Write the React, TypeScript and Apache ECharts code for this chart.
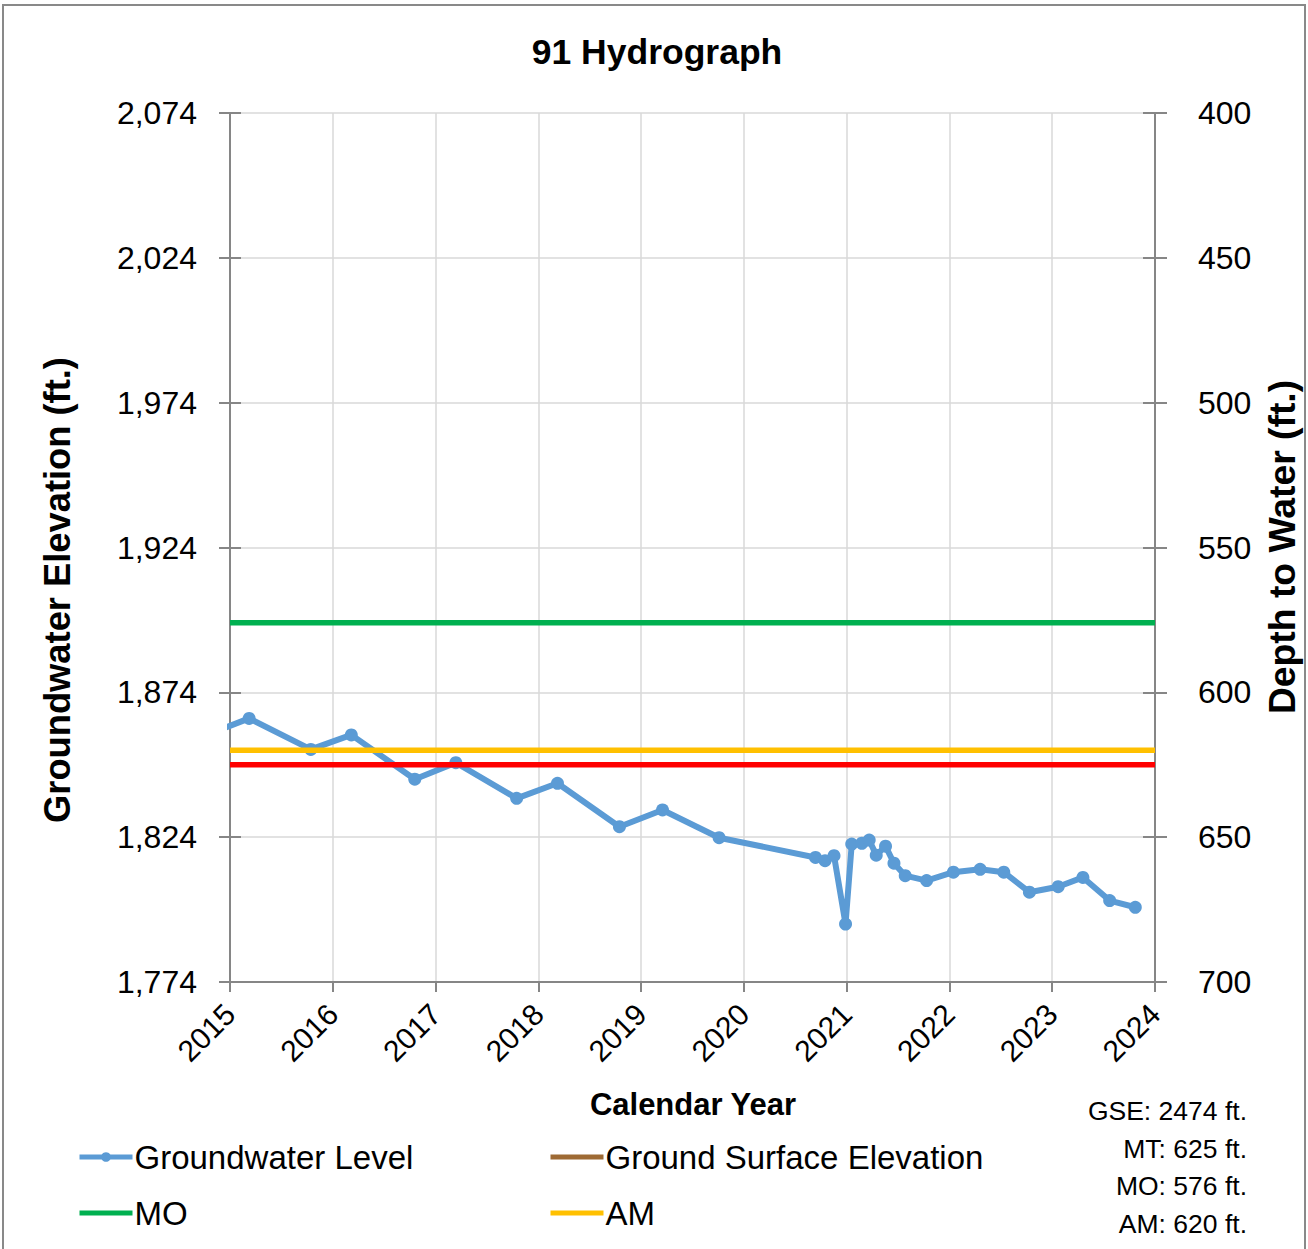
import React, { useEffect, useRef } from "react";
import * as echarts from "echarts";

const GSE = 2474;
const MT_DEPTH = 625;
const MO_DEPTH = 576;
const AM_DEPTH = 620;

const measureDates = [
  "2014-10-20", "2015-03-10", "2015-10-15", "2016-03-07", "2016-10-19", "2017-03-14",
  "2017-10-16", "2018-03-10", "2018-10-16", "2019-03-18", "2019-10-05", "2020-09-12",
  "2020-10-16", "2020-11-17", "2020-12-28", "2021-01-19", "2021-02-24", "2021-03-22",
  "2021-04-16", "2021-05-19", "2021-06-18", "2021-07-28", "2021-10-12", "2022-01-15",
  "2022-04-20", "2022-07-13", "2022-10-12", "2023-01-22", "2023-04-20", "2023-07-24",
  "2023-10-23",
];
const gwElevation = [
  1859.7, 1865.0, 1854.3, 1859.3, 1844.0, 1849.7,
  1837.4, 1842.6, 1827.6, 1833.4, 1823.8, 1817.0,
  1815.9, 1817.6, 1794.0, 1821.6, 1821.9, 1823.0,
  1817.8, 1820.9, 1815.0, 1810.7, 1809.0, 1811.9,
  1812.9, 1811.9, 1805.0, 1806.9, 1810.1, 1802.1,
  1799.8,
];
const yearStart = 2015;
const yearEnd = 2024;
const elevMin = 1774;
const elevMax = 2074;
const depthMin = 400;
const depthMax = 700;
const tickStep = 50;

const infoLines = [
  `GSE: ${GSE} ft.`,
  `MT: ${MT_DEPTH} ft.`,
  `MO: ${MO_DEPTH} ft.`,
  `AM: ${AM_DEPTH} ft.`,
];

const FONT = "'Liberation Sans', Arial, sans-serif";

function toDecimalYear(s: string): number {
  const [y, m, d] = s.split("-").map(Number);
  const t = Date.UTC(y, m - 1, d);
  const a = Date.UTC(y, 0, 1);
  const b = Date.UTC(y + 1, 0, 1);
  return y + (t - a) / (b - a);
}

export default function App() {
  const ref = useRef<HTMLDivElement>(null);
  useEffect(() => {
    document.body.style.margin = "0";
    if (!ref.current) return;
    const chart = echarts.init(ref.current, null, { renderer: "svg" });
    const gw = measureDates.map((d, i) => [toDecimalYear(d), gwElevation[i]]);
    const flat = (v: number) => [[yearStart, v], [yearEnd, v]];
    const axisGray = "#868686";
    const yBase = {
      type: "value",
      min: elevMin,
      max: elevMax,
      interval: tickStep,
    };
    const legendCommon = {
      top: 1139,
      orient: "vertical",
      padding: 0,
      itemWidth: 53,
      itemHeight: 12,
      itemGap: 20,
      lineStyle: { width: 5 },
      textStyle: { fontSize: 33, fontFamily: FONT, color: "#000", lineHeight: 36, padding: [0, 0, 0, -3] },
    };
    chart.setOption({
      animation: false,
      backgroundColor: "#fff",
      grid: { left: 230, right: 153, top: 113, bottom: 267, containLabel: false },
      xAxis: {
        type: "value",
        min: yearStart,
        max: yearEnd,
        interval: 1,
        axisLine: { show: true, lineStyle: { color: axisGray, width: 2 } },
        axisTick: { show: true, length: 10, lineStyle: { color: axisGray, width: 2 } },
        splitLine: { show: true, lineStyle: { color: "#D9D9D9", width: 1.5 } },
        axisLabel: {
          rotate: 45,
          fontSize: 30,
          fontFamily: FONT,
          color: "#000",
          margin: 27,
          formatter: (v: number) => String(v),
        },
      },
      yAxis: [
        {
          ...yBase,
          position: "left",
          axisLine: { show: true, lineStyle: { color: axisGray, width: 2 } },
          axisTick: { show: true, length: 11, lineStyle: { color: axisGray, width: 2 } },
          splitLine: { show: true, lineStyle: { color: "#D9D9D9", width: 1.5 } },
          axisLabel: {
            fontSize: 32,
            fontFamily: FONT,
            color: "#000",
            margin: 33,
            formatter: (v: number) => v.toLocaleString("en-US"),
          },
        },
        {
          type: "value",
          min: depthMin,
          max: depthMax,
          interval: tickStep,
          inverse: true,
          position: "right",
          axisLine: { show: true, lineStyle: { color: axisGray, width: 2 } },
          axisTick: { show: true, length: 12, lineStyle: { color: axisGray, width: 2 } },
          splitLine: { show: false },
          axisLabel: {
            fontSize: 32,
            fontFamily: FONT,
            color: "#000",
            margin: 43,
          },
        },
        {
          ...yBase,
          position: "left",
          axisLine: { show: false },
          axisTick: { show: true, inside: true, length: 11, lineStyle: { color: axisGray, width: 2 } },
          splitLine: { show: false },
          axisLabel: { show: false },
        },
        {
          type: "value",
          min: depthMin,
          max: depthMax,
          interval: tickStep,
          inverse: true,
          position: "right",
          axisLine: { show: false },
          axisTick: { show: true, inside: true, length: 12, lineStyle: { color: axisGray, width: 2 } },
          splitLine: { show: false },
          axisLabel: { show: false },
        },
      ],
      legend: [
        {
          ...legendCommon,
          left: 77,
          data: [
            { name: "Groundwater Level" },
            { name: "MO", itemStyle: { opacity: 0 } },
          ],
        },
        {
          ...legendCommon,
          left: 548,
          data: [
            { name: "Ground Surface Elevation", itemStyle: { opacity: 0 } },
            { name: "AM", itemStyle: { opacity: 0 } },
          ],
        },
      ],
      series: [
        {
          name: "Groundwater Level",
          type: "line",
          data: gw,
          yAxisIndex: 0,
          z: 2,
          symbol: "circle",
          symbolSize: 13,
          color: "#5B9BD5",
          lineStyle: { width: 6, color: "#5B9BD5" },
          itemStyle: { color: "#5B9BD5" },
          clip: true,
        },
        {
          name: "Ground Surface Elevation",
          type: "line",
          data: flat(GSE),
          yAxisIndex: 0,
          symbol: "none",
          color: "#9E6A34",
          lineStyle: { width: 5.5, color: "#9E6A34" },
          z: 3,
          clip: true,
        },
        {
          name: "MO",
          type: "line",
          data: flat(GSE - MO_DEPTH),
          yAxisIndex: 0,
          symbol: "none",
          color: "#00B050",
          lineStyle: { width: 5.5, color: "#00B050" },
          z: 3,
        },
        {
          name: "AM",
          type: "line",
          data: flat(GSE - AM_DEPTH),
          yAxisIndex: 0,
          symbol: "none",
          color: "#FFC000",
          lineStyle: { width: 5.5, color: "#FFC000" },
          z: 3,
        },
        {
          name: "MT",
          type: "line",
          data: flat(GSE - MT_DEPTH),
          yAxisIndex: 0,
          symbol: "none",
          color: "#FF0000",
          lineStyle: { width: 5.5, color: "#FF0000" },
          z: 3,
        },
      ],
      graphic: [
        {
          type: "rect",
          shape: { x: 3, y: 5, width: 1302, height: 1262 },
          style: { fill: "none", stroke: "#898989", lineWidth: 2 },
          silent: true,
        },
        {
          type: "text",
          x: 657,
          y: 52,
          style: {
            text: "91 Hydrograph",
            font: `bold 35.5px ${FONT}`,
            fill: "#000",
            textAlign: "center",
            textVerticalAlign: "middle",
          },
        },
        {
          type: "text",
          x: 57,
          y: 590,
          rotation: Math.PI / 2,
          style: {
            text: "Groundwater Elevation (ft.)",
            font: `bold 36.3px ${FONT}`,
            fill: "#000",
            textAlign: "center",
            textVerticalAlign: "middle",
          },
        },
        {
          type: "text",
          x: 1282,
          y: 547,
          rotation: Math.PI / 2,
          style: {
            text: "Depth to Water (ft.)",
            font: `bold 37.3px ${FONT}`,
            fill: "#000",
            textAlign: "center",
            textVerticalAlign: "middle",
          },
        },
        {
          type: "text",
          x: 693,
          y: 1104,
          style: {
            text: "Calendar Year",
            font: `bold 31px ${FONT}`,
            fill: "#000",
            textAlign: "center",
            textVerticalAlign: "middle",
          },
        },
        ...infoLines.map((t, i) => ({
          type: "text",
          x: 1247,
          y: 1111 + i * 37.7,
          style: {
            text: t,
            font: `26.5px ${FONT}`,
            fill: "#000",
            textAlign: "right",
            textVerticalAlign: "middle",
          },
        })),
      ],
    });
    return () => chart.dispose();
  }, []);
  return <div ref={ref} style={{ width: 1308, height: 1249 }} />;
}
